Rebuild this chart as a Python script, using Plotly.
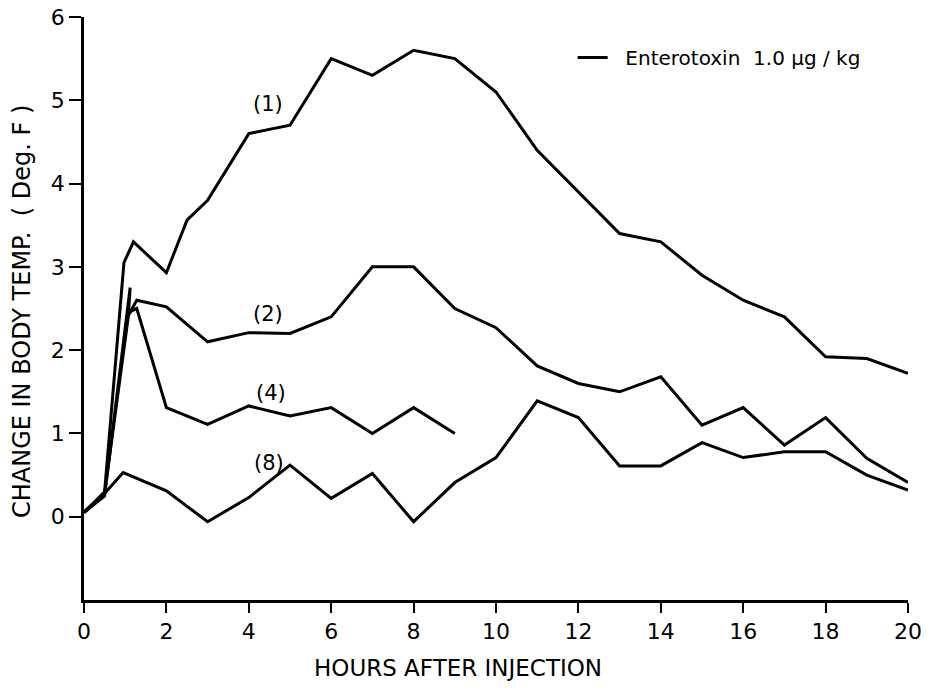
import plotly.graph_objects as go

# Data
x1 = [0, 0.5, 0.97, 1.2, 2, 2.5, 3, 4, 5, 6, 7, 8, 9, 10, 11, 12, 13, 14, 15, 16, 17, 18, 19, 20]
y1 = [0.05, 0.3, 3.05, 3.3, 2.93, 3.56, 3.8, 4.6, 4.7, 5.5, 5.3, 5.6, 5.5, 5.1, 4.4, 3.9, 3.4, 3.3, 2.9, 2.6, 2.4, 1.92, 1.9, 1.72]

x2 = [0, 0.5, 1.08, 1.28, 2, 3, 4, 5, 6, 7, 8, 9, 10, 11, 12, 13, 14, 15, 16, 17, 18, 19, 20]
y2 = [0.05, 0.28, 2.42, 2.6, 2.52, 2.1, 2.21, 2.2, 2.4, 3.0, 3.0, 2.5, 2.27, 1.81, 1.6, 1.5, 1.68, 1.1, 1.31, 0.86, 1.19, 0.7, 0.41]

x4 = [0, 0.5, 1.12, 1.08, 1.28, 2, 3, 4, 5, 6, 7, 8, 9]
y4 = [0.05, 0.25, 2.75, 2.45, 2.5, 1.31, 1.11, 1.33, 1.21, 1.31, 1.0, 1.31, 1.0]

x8 = [0, 0.5, 0.95, 2, 3, 4, 5, 6, 7, 8, 9, 10, 11, 12, 13, 14, 15, 16, 17, 18, 19, 20]
y8 = [0.06, 0.28, 0.53, 0.31, -0.06, 0.23, 0.62, 0.22, 0.52, -0.06, 0.41, 0.71, 1.39, 1.19, 0.61, 0.61, 0.89, 0.71, 0.78, 0.78, 0.5, 0.32]

labels = ["(1)", "(2)", "(4)", "(8)"]
label_x = [4.47, 4.47, 4.54, 4.49]
label_y = [4.96, 2.43, 1.48, 0.65]

x_ticks = list(range(0, 21, 2))
y_ticks = list(range(0, 7))

legend_name = "\u00a0\u00a0Enterotoxin\u00a0\u00a01.0\u00a0\u03bcg\u00a0/\u00a0kg"
x_title = "HOURS AFTER INJECTION"
y_title = "CHANGE IN BODY TEMP.  ( Deg. F )"

FONT = "DejaVu Sans, Arial, sans-serif"

fig = go.Figure()
series = [(x1, y1, True), (x2, y2, False), (x4, y4, False), (x8, y8, False)]
for xs, ys, show in series:
    fig.add_trace(go.Scatter(
        x=xs, y=ys, mode="lines",
        line=dict(color="black", width=3),
        name=legend_name,
        showlegend=show,
    ))

for t, lx, ly in zip(labels, label_x, label_y):
    fig.add_annotation(x=lx, y=ly, text=t, showarrow=False,
                       font=dict(family=FONT, size=21, color="black"))

fig.add_annotation(xref="paper", yref="paper", x=0.454, y=-0.117,
                   xanchor="center", yanchor="middle",
                   text=x_title, showarrow=False,
                   font=dict(family=FONT, size=23, color="black"))
fig.add_annotation(xref="paper", yref="paper", x=-0.0752, y=0.494,
                   xanchor="center", yanchor="middle",
                   text=y_title, showarrow=False, textangle=-90,
                   font=dict(family=FONT, size=24, color="black"))

fig.update_layout(
    width=929, height=690,
    margin=dict(l=84, r=21, t=17, b=90, autoexpand=False),
    paper_bgcolor="white", plot_bgcolor="white",
    font=dict(family=FONT, color="black", size=20),
    legend=dict(x=0.593, y=0.964, xanchor="left", yanchor="top",
                bgcolor="rgba(0,0,0,0)", font=dict(size=20, family=FONT)),
    xaxis=dict(range=[0, 20], tickvals=x_ticks, showgrid=False, zeroline=False,
               automargin=False,
               showline=True, linecolor="black", linewidth=2.5,
               ticks="outside", ticklen=10, tickwidth=2, tickcolor="black",
               tickfont=dict(size=22, family=FONT)),
    yaxis=dict(range=[-1, 6], tickvals=y_ticks, showgrid=False, zeroline=False,
               automargin=False,
               showline=True, linecolor="black", linewidth=2.5,
               ticks="outside", ticklen=12, tickwidth=2, tickcolor="black",
               tickfont=dict(size=22, family=FONT)),
)

fig.write_html("out.html")
